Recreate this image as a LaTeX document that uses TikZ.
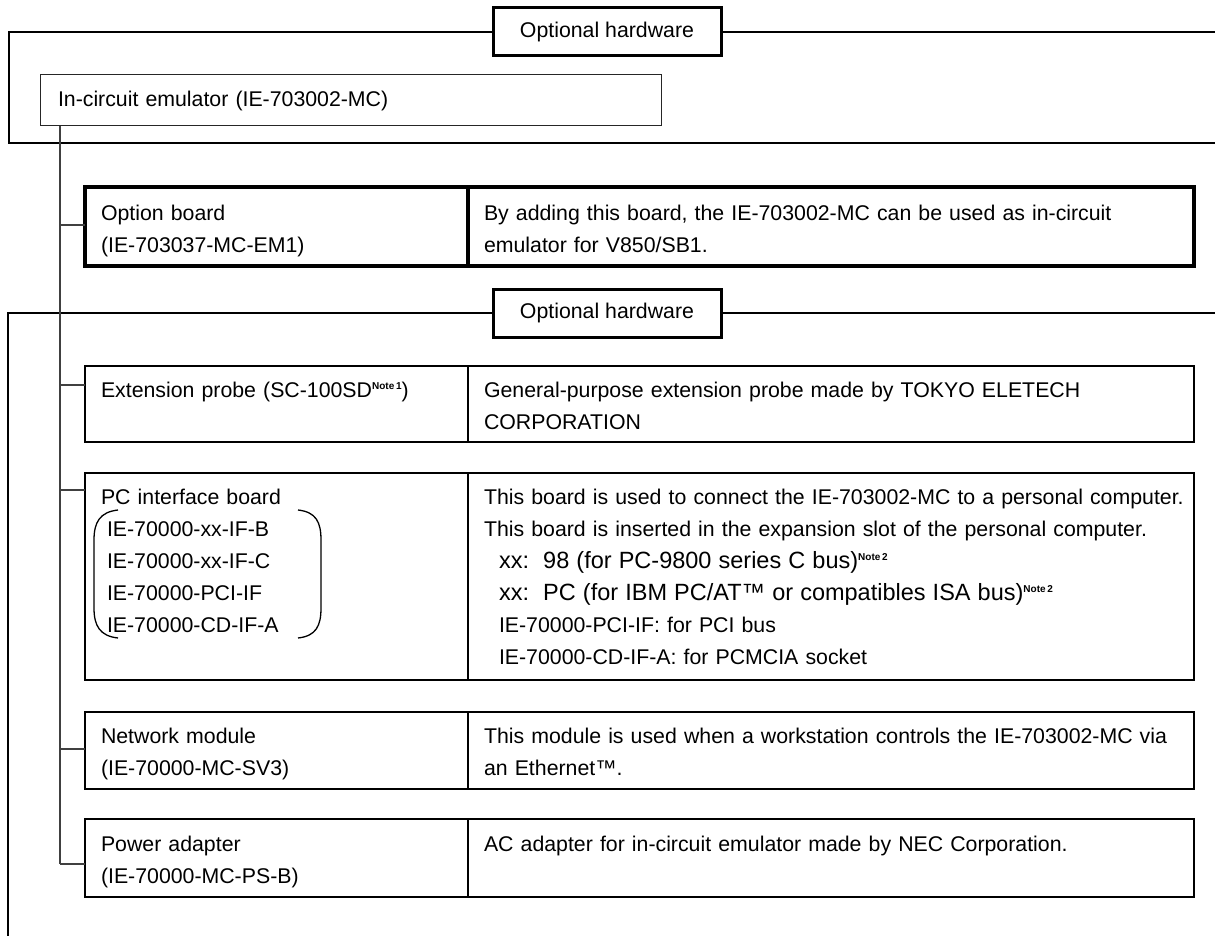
\documentclass[tikz,border=0pt]{standalone}
\usepackage{fontspec}
\setmainfont{Liberation Sans}
\usepackage{tikz}
\usetikzlibrary{calc}
\newcommand{\rowfont}{\fontsize{21.3}{32}\selectfont}
\newcommand{\busfont}{\fontsize{23.5}{32}\selectfont}
\newcommand{\notemark}[1]{\raisebox{8pt}{\fontsize{10}{10}\selectfont\bfseries Note\,#1}}
\tikzset{
  cell/.style={draw, line width=2.2pt, anchor=north west, align=left, inner xsep=16pt, inner ysep=0pt, outer sep=0pt, text height=31pt, font=\rowfont},
  lcell/.style={cell, text width=351pt},
  rcell/.style={cell, text width=694pt},
  hwtag/.style={draw, line width=3pt, fill=white, minimum width=228pt, minimum height=48pt, inner sep=0pt, outer sep=0pt, font=\rowfont},
  icebox/.style={draw, line width=1pt, black!85, text=black, anchor=north west, align=left, text width=585pt, inner xsep=18pt, inner ysep=0pt, outer sep=0pt, minimum height=51pt, font=\rowfont},
  framel/.style={line width=1.6pt},
  trunk/.style={line width=1.2pt, black!75},
  paren/.style={line width=1.3pt}
}

\begin{document}
\begin{tikzpicture}[x=1pt, y=-1pt]
    \useasboundingbox (0,0) rectangle (1215,936);

    % Upper group
    \node[hwtag] (tag1) at (607,32) {Optional hardware};
    \node[icebox] (ice) at (40,75) {In-circuit emulator (IE-703002-MC)};
    \coordinate (c1) at (9,143);
    \coordinate (e1) at (1215,32);
    \coordinate (e2) at (1215,143);
    \draw[framel] (tag1.west) -| (c1) -- (e2);
    \draw[framel] (tag1.east) -- (e1);

    % Option board
    \node[lcell, line width=3.5pt, text height=34pt, text depth=45pt] (optL) at (85,187) {Option board\\(IE-703037-MC-EM1)};
    \node[rcell, line width=3.5pt, text height=34pt, text depth=45pt] (optR) at (468,187) {By adding this board, the IE-703002-MC can be used as in-circuit\\emulator for V850/SB1.};

    % Lower group
    \node[hwtag] (tag2) at (607,313) {Optional hardware};
    \coordinate (c2) at (8,936);
    \coordinate (e3) at (1215,313);
    \draw[framel] (tag2.west) -| (c2);
    \draw[framel] (tag2.east) -- (e3);

    \node[lcell, text depth=45pt] (extL) at (85,366) {Extension probe (SC-100SD\notemark{1})};
    \node[rcell, text depth=45pt] (extR) at (468,366) {General-purpose extension probe made by TOKYO ELETECH\\CORPORATION};

    \node[lcell, text depth=176pt] (pcL) at (85,473) {PC interface board\\
      \hspace*{6pt}IE-70000-xx-IF-B\\
      \hspace*{6pt}IE-70000-xx-IF-C\\
      \hspace*{6pt}IE-70000-PCI-IF\\
      \hspace*{6pt}IE-70000-CD-IF-A};
    \node[rcell, text depth=176pt] (pcR) at (468,473) {\mbox{This board is used to connect the IE-703002-MC to a personal computer.}\\
      \mbox{This board is inserted in the expansion slot of the personal computer.}\\
      \hspace*{15pt}{\busfont xx:\ \ 98 (for PC-9800 series C bus)}\notemark{2}\\
      \hspace*{15pt}{\busfont xx:\ \ PC (for IBM PC/AT™ or compatibles ISA bus)}\notemark{2}\\
      \hspace*{15pt}IE-70000-PCI-IF: for PCI bus\\
      \hspace*{15pt}IE-70000-CD-IF-A: for PCMCIA socket};
    \draw[paren] (118,510) .. controls (100,512) and (94,522) .. (94,540) -- (94,608) .. controls (94,626) and (100,636) .. (118,638);
    \draw[paren] (298,510) .. controls (316,512) and (321,522) .. (321,540) -- (321,608) .. controls (321,626) and (316,636) .. (298,638);

    \node[lcell, text depth=46pt] (netL) at (85,712) {Network module\\(IE-70000-MC-SV3)};
    \node[rcell, text depth=46pt] (netR) at (468,712) {This module is used when a workstation controls the IE-703002-MC via\\an Ethernet™.};

    \node[lcell, text height=32pt, text depth=46pt] (pwrL) at (85,819) {Power adapter\\(IE-70000-MC-PS-B)};
    \node[rcell, text height=32pt, text depth=46pt] (pwrR) at (468,819) {AC adapter for in-circuit emulator made by NEC Corporation.};

    % Trunk and branches
    \coordinate (tend) at (60,864);
    \draw[trunk] (ice.south -| tend) -- (tend);
    \foreach \y/\n in {225/optL, 385/extL, 490/pcL, 749/netL, 864/pwrL}
      \draw[trunk] (tend |- 0,\y) -- (\n.west |- 0,\y);
\end{tikzpicture}
\end{document}
